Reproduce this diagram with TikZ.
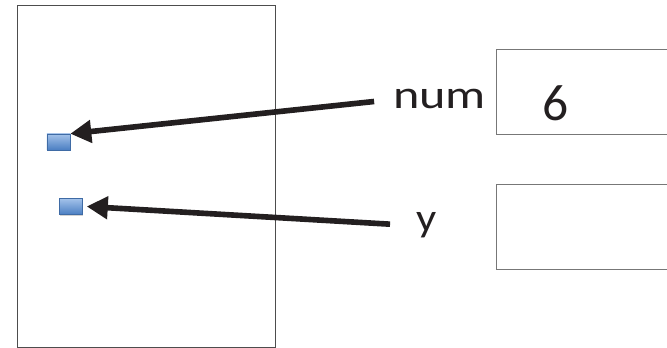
\documentclass[tikz,border=0pt]{standalone}
\usepackage{graphicx}
\usepackage{fontspec}
\setmainfont{Carlito}
\usetikzlibrary{arrows.meta,shadows}
\definecolor{ink}{HTML}{231F20}
\definecolor{edge}{HTML}{4D4D4D}
\definecolor{boxedge}{HTML}{777777}
\definecolor{refblue}{HTML}{4A7EC2}
\definecolor{reftop}{HTML}{A3C2EA}

\begin{document}
\begin{tikzpicture}[x=0.03cm,y=-0.03cm,
  refbox/.style={draw=refblue!85!black,line width=0.5pt,top color=reftop,bottom color=refblue,minimum width=0.69cm,minimum height=0.48cm,inner sep=0pt,drop shadow={opacity=0.35,shadow xshift=0.6pt,shadow yshift=-1pt}},
  valbox/.style={draw=boxedge,fill=white,line width=0.8pt,minimum width=6.3cm,minimum height=2.55cm,inner sep=0pt,anchor=north west,drop shadow={opacity=0.2,shadow xshift=0.6pt,shadow yshift=-0.8pt}},
  lbl/.style={inner sep=0pt,font=\fontsize{34}{40}\selectfont,text=ink},
  ptr/.style={-{Triangle[length=0.63cm,width=0.66cm]},line width=4.8pt,draw=ink}]
\useasboundingbox (0,0) rectangle (667,348);
\clip (0,0) rectangle (667,348);
\draw[edge,line width=0.85pt] (17,6) rectangle (275,347);
% memory cells
\node[refbox] (ref1) at (58.5,142) {};
\node[refbox] (ref2) at (71,206.5) {};
\node[valbox] (val1) at (496,49) {};
\node[valbox] (val2) at (496,184) {};
% names and value
\node[lbl,anchor=base west] (num) at (393,109) {\scalebox{1.26}[1]{num}};
\node[lbl,anchor=base west] (y) at (416,232) {\scalebox{1.12}[1]{y}};
\node[lbl,anchor=base west,font=\fontsize{44}{52}\selectfont] (six) at (542,121) {6};
\draw[ptr,shorten <=0.57cm] (num.west) -- (ref1.north east);
\draw[ptr,shorten <=0.78cm] (y.west) -- ([xshift=0.12cm]ref2.east);
\end{tikzpicture}
\end{document}
